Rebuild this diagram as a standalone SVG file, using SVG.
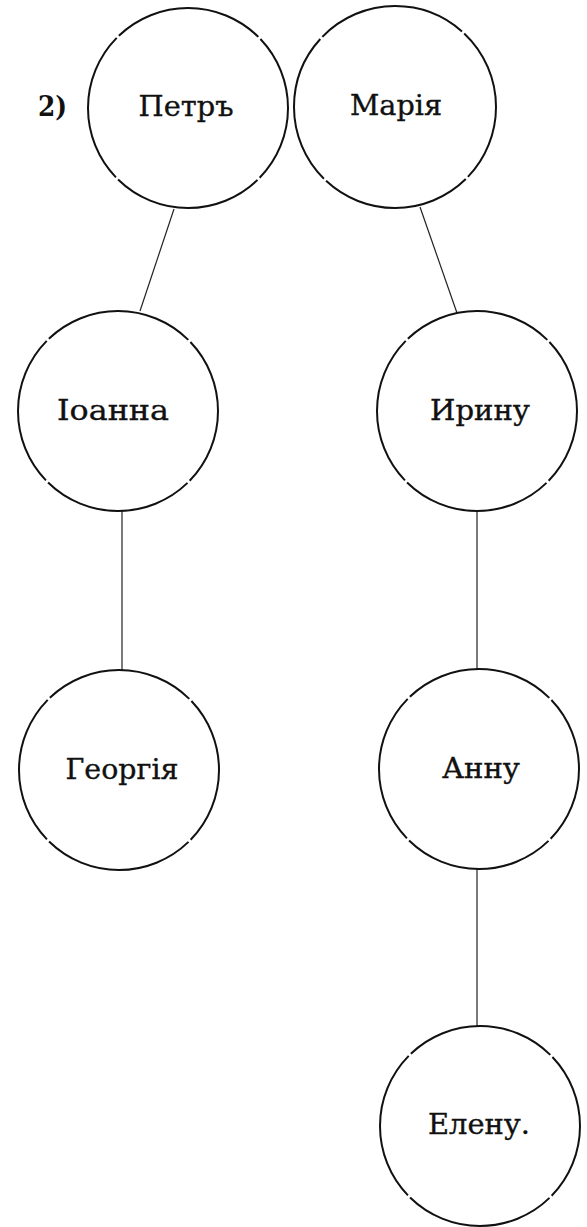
<svg xmlns="http://www.w3.org/2000/svg" width="587" height="1227" viewBox="0 0 587 1227">
<style>
.node circle{fill:none;stroke:#111;stroke-width:2;stroke-dasharray:154.08 3;stroke-dashoffset:77}
.node text{font-family:"DejaVu Serif","Liberation Serif",serif;font-size:27px;fill:#111;stroke:#111;stroke-width:0.35;text-anchor:middle}
.edges line{stroke:#222;stroke-width:1.2}
.num{font-family:"DejaVu Serif","Liberation Serif",serif;font-size:27px;font-weight:bold;fill:#111}
</style>
<rect width="587" height="1227" fill="#fff"/>
<text class="num" x="38" y="116" textLength="29" lengthAdjust="spacingAndGlyphs">2)</text>
<g class="edges">
<line x1="174" y1="209" x2="140" y2="311"/>
<line x1="420" y1="207" x2="457" y2="313"/>
<line x1="122" y1="511" x2="122" y2="670"/>
<line x1="477" y1="511" x2="477" y2="669"/>
<line x1="477" y1="868" x2="477" y2="1027"/>
</g>
<g id="petr" class="node"><circle cx="188" cy="108" r="100"/><text x="186" y="116" textLength="95" lengthAdjust="spacingAndGlyphs">Петръ</text></g>
<g id="maria" class="node"><circle cx="395" cy="107" r="101"/><text x="396" y="115" textLength="92" lengthAdjust="spacingAndGlyphs">Марія</text></g>
<g id="ioanna" class="node"><circle cx="118" cy="411" r="100"/><text x="113" y="420" textLength="112" lengthAdjust="spacingAndGlyphs">Іоанна</text></g>
<g id="irinu" class="node"><circle cx="477" cy="411" r="100"/><text x="480" y="420" textLength="100" lengthAdjust="spacingAndGlyphs">Ирину</text></g>
<g id="georgia" class="node"><circle cx="119" cy="770" r="100"/><text x="122" y="779" textLength="113" lengthAdjust="spacingAndGlyphs">Георгія</text></g>
<g id="annu" class="node"><circle cx="479" cy="769" r="100"/><text x="481" y="778" textLength="78" lengthAdjust="spacingAndGlyphs">Анну</text></g>
<g id="elenu" class="node"><circle cx="480" cy="1126" r="100"/><text x="479" y="1134" textLength="102" lengthAdjust="spacingAndGlyphs">Елену.</text></g>
</svg>
